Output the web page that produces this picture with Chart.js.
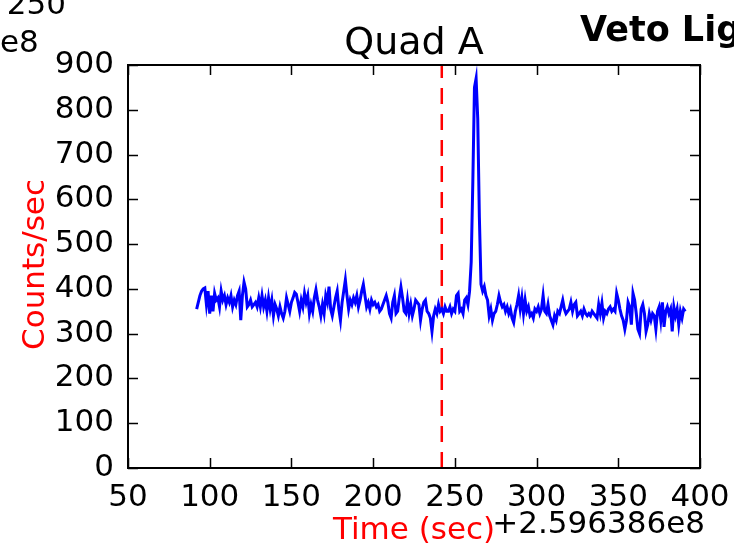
<!DOCTYPE html>
<html>
<head>
<meta charset="utf-8">
<script src="https://cdn.jsdelivr.net/npm/chart.js@4"></script>
<style>
  html, body { margin: 0; padding: 0; background: #fff; }
  #wrap { width: 734px; height: 548px; }
</style>
</head>
<body>
<div id="wrap"><canvas id="vetoChart" width="734" height="548"></canvas></div>
<script>
// Veto light curve, quad A — 1 s bins, times relative to offset 2.596386e8
const TIME_START = 92;      // first bin (sec)
const TRIGGER_T  = 242;     // red dashed marker (sec)

const COUNTS = [
  // 92 - 149
  355, 370, 385, 395, 400, 402, 365, 395, 345, 385, 350, 390, 375, 380, 360, 395,
  375, 385, 365, 380, 370, 385, 360, 375, 365, 385, 395, 330, 385, 415, 400, 360,
  365, 375, 360, 365, 370, 360, 380, 360, 385, 360, 375, 350, 380, 355, 375, 340,
  365, 355, 340, 360, 345, 335, 350, 380, 365, 350,
  // 150 - 210
  370, 380, 392, 388, 370, 350, 375, 360, 390, 370, 385, 345, 365, 350, 380, 398,
  375, 360, 340, 365, 345, 385, 370, 405, 355, 340, 360, 380, 395, 355, 330, 370,
  395, 420, 385, 355, 375, 365, 380, 370, 385, 360, 375, 395, 410, 385, 360, 370,
  355, 375, 365, 370, 360, 365, 350, 355, 365, 375, 385, 370, 345,
  // 211 - 268 (burst near 263)
  335, 370, 385, 345, 350, 380, 404, 380, 350, 345, 375, 345, 365, 340, 355, 375,
  370, 365, 330, 355, 370, 375, 350, 345, 335, 305, 340, 355, 345, 365, 350, 355,
  345, 360, 350, 350, 360, 345, 355, 350, 385, 390, 350, 355, 345, 375, 380, 365,
  395, 460, 640, 850, 870, 780, 560, 410, 395, 405,
  // 269 - 326
  385, 375, 340, 355, 330, 345, 350, 365, 385, 370, 360, 365, 350, 360, 345, 355,
  335, 325, 350, 365, 385, 355, 380, 345, 375, 350, 360, 340, 345, 335, 355, 350,
  360, 345, 355, 385, 350, 345, 365, 340, 330, 320, 340, 330, 350, 345, 360, 375,
  355, 345, 350, 355, 370, 350, 365, 370, 340, 345,
  // 327 - 391
  350, 340, 355, 345, 340, 345, 340, 350, 345, 340, 335, 365, 345, 368, 335, 350,
  345, 355, 360, 350, 355, 350, 390, 375, 355, 340, 330, 310, 330, 370, 360, 320,
  390, 375, 345, 310, 300, 355, 365, 345, 305, 320, 345, 330, 345, 340, 310, 350,
  360, 330, 370, 315, 350, 360, 345, 355, 305, 360, 340, 355, 320, 350, 335, 355,
  350
];

const X_TICKS = [50, 100, 150, 200, 250, 300, 350, 400];
const Y_TICKS = [0, 100, 200, 300, 400, 500, 600, 700, 800, 900];

const FONT = "'DejaVu Sans', sans-serif";

// one point per second
const lightCurve = COUNTS.map((c, i) => ({ x: TIME_START + i, y: c }));
const triggerLine = [{ x: TRIGGER_T, y: Y_TICKS[0] }, { x: TRIGGER_T, y: Y_TICKS[Y_TICKS.length - 1] }];

/**
 * Draws the matplotlib-style frame: full box, inward ticks and the loose texts
 */
const framePlugin = {
  id: 'frame',
  afterDraw(chart) {
    const { ctx, chartArea: a, scales: { x, y } } = chart;
    const TICK = 10;

    ctx.save();
    ctx.strokeStyle = '#000';
    ctx.lineWidth = 1.5;
    ctx.beginPath();
    X_TICKS.forEach(v => {
      const px = Math.round(x.getPixelForValue(v)) + 0.5;
      ctx.moveTo(px, a.bottom); ctx.lineTo(px, a.bottom - TICK);
      ctx.moveTo(px, a.top);    ctx.lineTo(px, a.top + TICK);
    });
    Y_TICKS.forEach(v => {
      const py = Math.round(y.getPixelForValue(v)) + 0.5;
      ctx.moveTo(a.left, py);  ctx.lineTo(a.left + TICK, py);
      ctx.moveTo(a.right, py); ctx.lineTo(a.right - TICK, py);
    });
    ctx.stroke();

    ctx.lineWidth = 2;
    ctx.strokeRect(a.left, a.top, a.right - a.left, a.bottom - a.top);

    // title
    ctx.fillStyle = '#000';
    ctx.textAlign = 'center';
    ctx.textBaseline = 'alphabetic';
    ctx.font = `38px ${FONT}`;
    ctx.fillText('Quad A', (a.left + a.right) / 2, 54);

    // axis labels
    ctx.font = `31px ${FONT}`;
    ctx.fillStyle = '#ff0000';
    ctx.fillText('Time (sec)', (a.left + a.right) / 2, 539);
    ctx.save();
    ctx.translate(44, (a.top + a.bottom) / 2 - 2);
    ctx.rotate(-Math.PI / 2);
    ctx.fillText('Counts/sec', 0, 0);
    ctx.restore();

    // offset text
    ctx.fillStyle = '#000';
    ctx.textAlign = 'right';
    ctx.fillText('+2.596386e8', 705, 533);

    // bits of the neighbouring panels
    ctx.fillText('250', 66, 14);
    ctx.textAlign = 'left';
    ctx.fillText('e8', 0, 52);
    ctx.font = `bold 35px ${FONT}`;
    ctx.fillText('Veto Light', 580, 41);
    ctx.restore();
  },
};

function initChart() {
  const ctx = document.getElementById('vetoChart').getContext('2d');

  new Chart(ctx, {
    type: 'line',
    data: {
      datasets: [
        {
          label:       'Quad A',
          data:        lightCurve,
          borderColor: '#0000ff',
          borderWidth: 3,
          pointRadius: 0,
          tension:     0,
          fill:        false,
        },
        {
          // trigger time marker
          label:       'Trigger',
          data:        triggerLine,
          borderColor: '#ff0000',
          borderWidth: 2.5,
          borderDash:  [16, 10],
          pointRadius: 0,
          fill:        false,
        },
      ],
    },
    options: {
      responsive: false,
      animation:  false,
      events:     [],
      layout:     { padding: { top: 65, right: 34, left: 0, bottom: 0 } },
      plugins: {
        legend:  { display: false },
        tooltip: { enabled: false },
      },
      scales: {
        x: {
          type: 'linear',
          min:  X_TICKS[0],
          max:  X_TICKS[X_TICKS.length - 1],
          afterBuildTicks: (s) => { s.ticks = X_TICKS.map(v => ({ value: v })); },
          afterFit: (s) => { s.height = 80; },
          ticks:  { font: { family: FONT, size: 31 }, color: '#000', padding: 3, maxRotation: 0, autoSkip: false },
          grid:   { display: false },
          border: { display: false },
        },
        y: {
          min: Y_TICKS[0],
          max: Y_TICKS[Y_TICKS.length - 1],
          afterBuildTicks: (s) => { s.ticks = Y_TICKS.map(v => ({ value: v })); },
          afterFit: (s) => { s.width = 128; },
          ticks:  { font: { family: FONT, size: 31 }, color: '#000', padding: 6, autoSkip: false },
          grid:   { display: false },
          border: { display: false },
        },
      },
    },
    plugins: [framePlugin],
  });
}

initChart();
</script>
</body>
</html>
